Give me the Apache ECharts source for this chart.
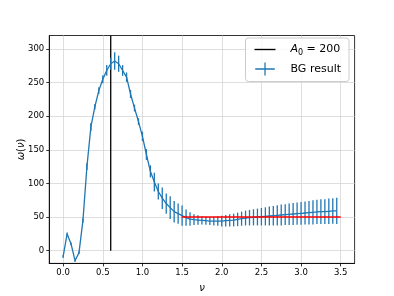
<!DOCTYPE html>
<html>
<head>
<meta charset="utf-8">
<script src="https://cdn.jsdelivr.net/npm/echarts@6/dist/echarts.min.js"></script>
<style>html,body{margin:0;padding:0;background:#fff;}#c{width:394px;height:296px;}</style>
</head>
<body>
<div id="c"></div>
<script>
// nu grid (step 0.05)
const nuValues = [0.00,0.05,0.10,0.15,0.20,0.25,0.30,0.35,0.40,0.45,0.50,0.55,0.60,0.65,0.70,0.75,0.80,0.85,0.90,0.95,
  1.00,1.05,1.10,1.15,1.20,1.25,1.30,1.35,1.40,1.45,1.50,1.55,1.60,1.65,1.70,1.75,1.80,1.85,1.90,1.95,
  2.00,2.05,2.10,2.15,2.20,2.25,2.30,2.35,2.40,2.45,2.50,2.55,2.60,2.65,2.70,2.75,2.80,2.85,2.90,2.95,
  3.00,3.05,3.10,3.15,3.20,3.25,3.30,3.35,3.40,3.45];
// BG result omega(nu)
const omegaValues = [-9,25,10,-15,-3,45,125,184,214,238,255,268,278,282,278,268,258,233,212,192,
  170,143,118,102,88,78,70,64,58,55,52,49,47,46,45.5,45,44.5,44,44,44,
  44,44.5,45,45.5,46.5,47.5,48.5,49,49.5,50,50.5,51,51.5,52,52.5,53,53.5,54,54.5,55,
  55.5,56,56.5,57,57.5,58,58,58.5,59,59];
// error bar half-lengths
const omegaErrors = [2,2,2,2,2,3,5,6,4,5,6,8,9,13,12,8,7,6,5,5,
  7,8,9,14,12,16,15,17,16,15,15,12,10,8,7,6,6,6,6.5,7,
  8,8.5,9,9.5,10,10.5,11,11.5,12,12.5,13,13.5,14,14.5,15,15.5,15.5,16,16.5,16.5,
  17,17,17.5,18,18,18.5,18.5,19,19,19.5];
// reference line A0 = 200 at nu = 0.6
const vlineX = [0.6, 0.6];
const vlineY = [0, 320];
// red line (fit)
const redX = [1.5, 3.5];
const redY = [50, 50];
// ticks
const xTicks = [0.0,0.5,1.0,1.5,2.0,2.5,3.0,3.5];
const yTicks = [0,50,100,150,200,250,300];

const chart = echarts.init(document.getElementById('c'), null, {renderer:'canvas'});
const F = 'DejaVu Sans';
const blue = '#1f77b4';

const lineData = nuValues.map((x,i)=>[x, omegaValues[i]]);
const errData = nuValues.map((x,i)=>[x, omegaValues[i], omegaErrors[i]]);

chart.setOption({
  animation: false,
  backgroundColor: '#fff',
  grid: {left: 49.25, right: 39.4, top: 35.5, bottom: 32.6, outerBoundsMode: 'none', containLabel: false,
    show: true, borderColor: '#000', borderWidth: 0.8, backgroundColor: 'transparent'},
  xAxis: {
    type: 'value', min: -0.175, max: 3.675,
    axisLine: {show: true, onZero: false, lineStyle: {color: '#000', width: 0.8}},
    axisTick: {show: true, length: 3, customValues: xTicks, lineStyle: {color: '#000', width: 0.8}},
    axisLabel: {customValues: xTicks, margin: 5, fontFamily: F, fontSize: 8.5, color: '#000', formatter: v => v.toFixed(1)},
    splitLine: {show: true, lineStyle: {color: '#d6d6d6', width: 0.8}},
    name: 'ν', nameLocation: 'middle', nameGap: 20, nameMoveOverlap: false,
    nameTextStyle: {fontFamily: F, fontSize: 10, fontStyle: 'italic', color: '#000'}
  },
  yAxis: {
    type: 'value', min: -19, max: 320,
    axisLine: {show: true, onZero: false, lineStyle: {color: '#000', width: 0.8}},
    axisTick: {show: true, length: 3, customValues: yTicks, lineStyle: {color: '#000', width: 0.8}},
    axisLabel: {customValues: yTicks, margin: 5, fontFamily: F, fontSize: 8.5, color: '#000'},
    splitLine: {show: true, lineStyle: {color: '#d6d6d6', width: 0.8}},
    name: '{i|ω}(​{i|ν})', nameLocation: 'middle', nameGap: 23, nameMoveOverlap: false,
    nameTextStyle: {fontFamily: F, fontSize: 10, color: '#000', rich: {i: {fontFamily: F, fontSize: 10, fontStyle: 'italic'}}}
  },
  legend: {
    orient: 'vertical', right: 45, top: 38,
    padding: [6, 8, 6, 9], itemGap: 6,
    itemWidth: 21, itemHeight: 13,
    backgroundColor: 'rgba(255,255,255,0.8)', borderColor: '#cccccc', borderWidth: 1, borderRadius: 3,
    data: [
      {name: 'A0', icon: 'path://M0,6h20v1.3h-20z'},
      {name: 'BG result', icon: 'path://M0,6h20v1.3h-20z M9.35,0h1.3v13.3h-1.3z'}
    ],
    formatter: n => n === 'A0' ? '{i|A}{s|0}{t| = 200}' : '{t|BG result}',
    textStyle: {
      fontFamily: F, fontSize: 11, color: '#000', padding: [0, 0, 0, 10],
      rich: {
        i: {fontFamily: F, fontSize: 11, fontStyle: 'italic', color: '#000'},
        s: {fontFamily: F, fontSize: 8, color: '#000', padding: [6, 0, 0, 0]},
        t: {fontFamily: F, fontSize: 11, color: '#000'}
      }
    }
  },
  series: [
    {
      name: 'A0', type: 'line', data: vlineX.map((x,i)=>[x, vlineY[i]]),
      showSymbol: false, symbol: 'none', color: '#000',
      lineStyle: {color: '#000', width: 1.3}, z: 3
    },
    {
      name: 'BG result', type: 'custom', data: errData, color: blue,
      renderItem: (params, api) => {
        const x = api.value(0), y = api.value(1), e = api.value(2);
        const p1 = api.coord([x, y - e]), p2 = api.coord([x, y + e]);
        return {type: 'line', shape: {x1: p1[0], y1: p1[1], x2: p2[0], y2: p2[1]}, style: {stroke: blue, lineWidth: 1.3}};
      },
      encode: {x: 0, y: 1}, z: 4
    },
    {
      name: 'BG result', type: 'line', data: lineData,
      showSymbol: false, symbol: 'none', color: blue,
      lineStyle: {color: blue, width: 1.3}, z: 5
    },
    {
      name: 'fit', type: 'line', data: redX.map((x,i)=>[x, redY[i]]),
      showSymbol: false, symbol: 'none', color: 'red',
      lineStyle: {color: 'red', width: 1.3}, z: 6
    }
  ]
});
</script>
</body>
</html>
